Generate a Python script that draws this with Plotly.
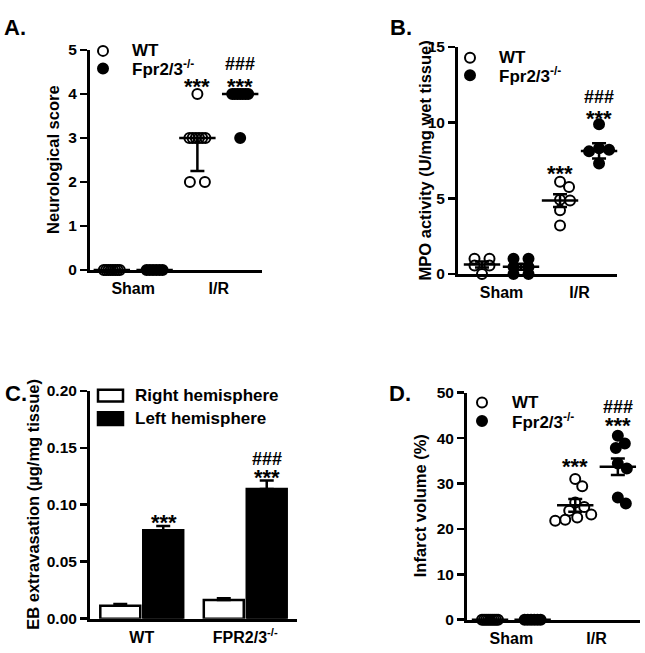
import plotly.graph_objects as go
from collections import Counter

W, H = 645, 653
FONT = "Liberation Sans, Arial, Helvetica, sans-serif"

# ---------------- data ----------------
x_tick_labels = ["Sham", "I/R"]
legend_labels = ["WT", "Fpr2/3<sup>-/-</sup>"]

# Panel A: neurological score
A_wt_sham = [0, 0, 0, 0, 0, 0, 0, 0]
A_fpr_sham = [0, 0, 0, 0, 0, 0]
A_wt_ir = [4, 3, 3, 3, 3, 3, 3, 2, 2]
A_fpr_ir = [4, 4, 4, 4, 4, 4, 4, 3]
A_mean = [0, 0, 3.0, 4.0]
A_err_up = [0, 0, 0, 0]
A_err_down = [0, 0, 0.75, 0]

# Panel B: MPO activity
B_wt_sham = [1.0, 1.0, 0.55, 0.55, 0.0]
B_fpr_sham = [1.0, 1.0, 0.45, 0.45, 0.0, 0.0]
B_wt_ir = [6.1, 5.75, 4.9, 4.85, 4.2, 3.2]
B_fpr_ir = [9.9, 8.3, 8.2, 8.1, 8.0, 7.3]
B_mean = [0.62, 0.48, 4.85, 8.13]
B_err = [0.2, 0.2, 0.42, 0.5]

# Panel C: EB extravasation
C_categories = ["WT", "FPR2/3<sup>-/-</sup>"]
C_series = ["Right hemisphere", "Left hemisphere"]
C_right = [0.0114, 0.0165]
C_right_err = [0.0014, 0.0015]
C_left = [0.0777, 0.1138]
C_left_err = [0.0037, 0.0074]

# Panel D: infarct volume
D_wt_sham = [0, 0, 0, 0, 0, 0, 0, 0, 0]
D_fpr_sham = [0, 0, 0, 0, 0, 0]
D_wt_ir = [31.0, 29.4, 25.8, 24.8, 24.0, 23.2, 22.5, 22.0, 21.8]
D_fpr_ir = [40.5, 38.8, 37.8, 34.4, 33.3, 26.9, 25.6]
D_mean = [0, 0, 25.2, 33.7]
D_err = [0, 0, 1.4, 1.8]

# significance marks: (group index, y value, text)
A_sig = [(3, 4.29, "***"), (4, 4.29, "***"), (4, 4.69, "###")]
B_sig = [(3, 7.0, "***"), (4, 10.6, "***"), (4, 11.7, "###")]
C_sig = [(0, 0.0889, "***"), (1, 0.128, "***"), (1, 0.140, "###")]
D_sig = [(3, 34.8, "***"), (4, 43.8, "***"), (4, 46.8, "###")]

# ---------------- layout geometry (window pixels) ----------------
panels = {
    "A": dict(xd=(90, 262), yd=(42, 268), xr=(0.49, 4.51), yr=(0, 5), dt=1, title="Neurological score", tx=53),
    "B": dict(xd=(458, 617), yd=(39, 272), xr=(0.385, 4.46), yr=(0, 15), dt=5, title="MPO activity (U/mg wet tissue)", tx=425),
    "C": dict(xd=(90, 297), yd=(392, 626), xr=(-0.5, 1.5), yr=(0, 0.2), dt=0.05, title="EB extravasation (µg/mg tissue)", tx=33),
    "D": dict(xd=(467, 640), yd=(394, 627), xr=(0.46, 4.52), yr=(0, 50), dt=10, title="Infarct volume (%)", tx=420),
}
MS = 10  # marker diameter px


def px(x):
    return x / W


def py(y):
    return 1 - y / H


def px_per_unit(p):
    xpx = (p["xd"][1] - p["xd"][0]) / (p["xr"][1] - p["xr"][0])
    ypx = (p["yd"][1] - p["yd"][0]) / (p["yr"][1] - p["yr"][0])
    return xpx, ypx


def swarm(vals, xpx, ypx, d=MS, maxw=8.0):
    """Deterministic beeswarm offsets (x data units)."""
    n = len(vals)
    off = [None] * n
    placed = []
    counts = Counter(vals)
    for v, c in counts.items():
        if c > 1:
            idx = [i for i, x in enumerate(vals) if x == v]
            step = min(d + 5, 2 * maxw / (c - 1))
            for k, i in enumerate(idx):
                off[i] = (k - (c - 1) / 2) * step
                placed.append((off[i], v * ypx))
    singles = sorted([i for i in range(n) if off[i] is None], key=lambda i: -vals[i])
    for i in singles:
        y = vals[i] * ypx
        k = 0
        while True:
            found = None
            for c in ([0] if k == 0 else [k, -k]):
                if all((c - a) ** 2 + (y - b) ** 2 >= d * d for a, b in placed):
                    found = c
                    break
            if found is not None:
                break
            k += 1
        off[i] = found
        placed.append((found, y))
    return [o / xpx for o in off]


fig = go.Figure()
SIGFONT = {"***": 22, "###": 18}


def add_dot_panel(key, ax, groups, means, err_up, err_down, sig):
    p = panels[key]
    xpx, ypx = px_per_unit(p)
    xa, ya = "x" + ax, "y" + ax
    for gi, vals in enumerate(groups):
        pos = gi + 1
        offs = swarm(vals, xpx, ypx)
        wt = gi % 2 == 0
        fig.add_trace(go.Scatter(
            x=[pos + o for o in offs], y=vals, mode="markers", xaxis=xa, yaxis=ya,
            cliponaxis=False, showlegend=False, hoverinfo="skip",
            marker=dict(symbol="circle-open" if wt else "circle", size=MS,
                        color="black", line=dict(color="black", width=2))))
    fig.add_trace(go.Scatter(
        x=[1, 2, 3, 4], y=means, mode="markers", xaxis=xa, yaxis=ya, cliponaxis=False,
        showlegend=False, hoverinfo="skip",
        marker=dict(symbol="line-ew", size=26, color="black", line=dict(color="black", width=2.5)),
        error_y=dict(type="data", symmetric=False, array=err_up, arrayminus=err_down,
                     color="black", thickness=2.5, width=7)))
    for gi, yv, txt in sig:
        fig.add_annotation(x=gi, y=yv, xref=xa, yref=ya, text="<b>" + txt + "</b>", showarrow=False,
                           font=dict(size=SIGFONT[txt], family=FONT, color="black"),
                           yshift=-5 if txt == "***" else 0)


add_dot_panel("A", "", [A_wt_sham, A_fpr_sham, A_wt_ir, A_fpr_ir], A_mean, A_err_up, A_err_down, A_sig)
add_dot_panel("B", "2", [B_wt_sham, B_fpr_sham, B_wt_ir, B_fpr_ir], B_mean, B_err, B_err, B_sig)
add_dot_panel("D", "4", [D_wt_sham, D_fpr_sham, D_wt_ir, D_fpr_ir], D_mean, D_err, D_err, D_sig)

# Panel C bars
for vals, errs, name, fill in [(C_right, C_right_err, C_series[0], "white"),
                               (C_left, C_left_err, C_series[1], "black")]:
    fig.add_trace(go.Bar(x=C_categories, y=vals, name=name, xaxis="x3", yaxis="y3",
                         marker=dict(color=fill, line=dict(color="black", width=2.5)),
                         error_y=dict(type="data", symmetric=False, array=errs, arrayminus=[0] * len(errs),
                                      color="black", thickness=2.5, width=7),
                         showlegend=False, hoverinfo="skip"))
for gi, yv, txt in C_sig:
    fig.add_annotation(x=C_categories[gi], y=yv, xref="x3", yref="y3", text="<b>" + txt + "</b>",
                       showarrow=False, xshift=22,
                       font=dict(size=SIGFONT[txt], family=FONT, color="black"),
                       yshift=-5 if txt == "***" else 0)

# ---------------- axes ----------------
for key, ax in zip("ABCD", ["", "2", "3", "4"]):
    p = panels[key]
    xdom = [px(p["xd"][0]), px(p["xd"][1])]
    ydom = [py(p["yd"][1]), py(p["yd"][0])]
    common = dict(showline=True, linecolor="black", linewidth=3, showgrid=False, zeroline=False,
                  fixedrange=True, layer="below traces")
    xa = dict(common, domain=xdom, range=list(p["xr"]), anchor="y" + ax,
              ticks="outside", ticklen=2, tickcolor="rgba(0,0,0,0)",
              tickfont=dict(family=FONT, size=16, color="black", weight="bold"))
    if key != "C":
        xa.update(tickvals=[1.5, 3.5], ticktext=x_tick_labels)
    else:
        xa.update(type="category")
    ya = dict(common, domain=ydom, range=list(p["yr"]), anchor="x" + ax, ticks="outside",
              ticklen=7, tickwidth=2.5, tickcolor="black", dtick=p["dt"], tick0=0,
              tickfont=dict(family=FONT, size=15.5, color="black", weight="bold"))
    if key == "C":
        ya.update(tickformat=".2f")
    fig.update_layout(**{"xaxis" + ax: xa, "yaxis" + ax: ya})
    fig.add_annotation(x=px(p["tx"]), y=py((p["yd"][0] + p["yd"][1]) / 2), xref="paper", yref="paper",
                       text="<b>" + p["title"] + "</b>", textangle=-90, showarrow=False,
                       xanchor="center", yanchor="middle",
                       font=dict(family=FONT, size=16.5, color="black"))

# ---------------- panel letters ----------------
for txt, x, y in [("A.", 15, 19), ("B.", 401, 19), ("C.", 16, 395), ("D.", 400, 395)]:
    fig.add_annotation(x=px(x), y=py(y), xref="paper", yref="paper", text="<b>" + txt + "</b>",
                       showarrow=False, xanchor="center", yanchor="middle",
                       font=dict(family=FONT, size=22, color="black"))


# ---------------- manual legends ----------------
def circle_shape(cx, cy, filled):
    return dict(type="circle", xref="paper", yref="paper", xsizemode="pixel", ysizemode="pixel",
                xanchor=px(cx), yanchor=py(cy), x0=-5, x1=5, y0=-5, y1=5,
                line=dict(color="black", width=2), fillcolor="black" if filled else "white")


def rect_shape(x0, x1, y0, y1, filled):
    return dict(type="rect", xref="paper", yref="paper", x0=px(x0), x1=px(x1), y0=py(y1), y1=py(y0),
                line=dict(color="black", width=2.5), fillcolor="black" if filled else "white")


shapes = []
for mx, tx, y1, y2 in [(103, 130, 43, 61), (470, 497, 50, 68), (482, 510, 404, 423)]:
    shapes.append(circle_shape(mx, y1, False))
    shapes.append(circle_shape(mx, y2, True))
    for lab, yy in zip(legend_labels, [y1, y2]):
        fig.add_annotation(x=px(tx), y=py(yy), xref="paper", yref="paper", text="<b>" + lab + "</b>",
                           showarrow=False, xanchor="left", yanchor="middle",
                           font=dict(family=FONT, size=17, color="black"))
shapes.append(rect_shape(98, 123, 391, 403, False))
shapes.append(rect_shape(98, 123, 414, 427, True))
for lab, yy in zip(C_series, [397, 420]):
    fig.add_annotation(x=px(133), y=py(yy), xref="paper", yref="paper", text="<b>" + lab + "</b>",
                       showarrow=False, xanchor="left", yanchor="middle",
                       font=dict(family=FONT, size=17, color="black"))

fig.update_layout(width=W, height=H, margin=dict(l=0, r=0, t=0, b=0), plot_bgcolor="white",
                  paper_bgcolor="white", barmode="group", bargap=0.17, bargroupgap=0.07,
                  shapes=shapes, showlegend=False,
                  font=dict(family=FONT, color="black"))

fig.write_html("out.html", config={"displayModeBar": False, "staticPlot": True},
               post_script="document.body.style.margin='0px';document.body.style.overflow='hidden';")
